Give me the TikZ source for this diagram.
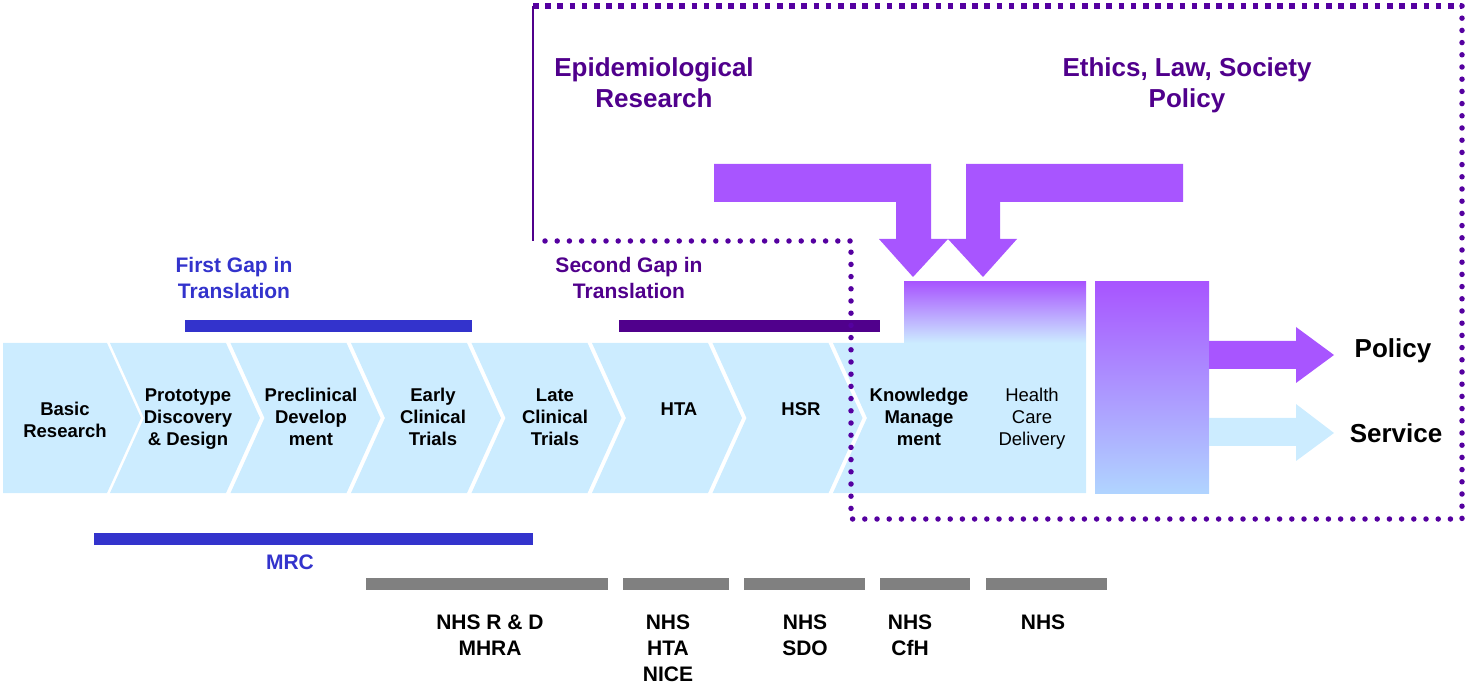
\documentclass[tikz,border=0pt]{standalone}
\usepackage{fontspec}
\setmainfont{Liberation Sans}
\usepackage{xcolor}
\usepackage{tikz}

\definecolor{chev}{RGB}{204,236,255}
\definecolor{viola}{RGB}{168,85,255}
\definecolor{indaco}{RGB}{80,0,140}
\definecolor{puntini}{RGB}{85,0,160}
\definecolor{blu}{RGB}{51,51,204}
\definecolor{grigio}{RGB}{128,128,128}
\definecolor{azzurro}{RGB}{176,212,255}

\tikzset{
  fase/.style={font=\fontsize{18.5}{22}\selectfont\bfseries, align=center, inner sep=0pt},
  titolo/.style={font=\fontsize{26}{31}\selectfont\bfseries, align=center, inner sep=0pt, text=indaco},
  gaptext/.style={font=\fontsize{21}{26}\selectfont\bfseries, align=center, inner sep=0pt},
  ente/.style={font=\fontsize{21}{26}\selectfont\bfseries, align=center, inner sep=0pt, anchor=north},
  esito/.style={font=\fontsize{26}{31}\selectfont\bfseries, inner sep=0pt},
  tondi/.style={puntini, line width=5.5pt, line cap=round, dash pattern=on 0pt off 12.2pt},
  quadri/.style={puntini, line width=5.5pt, line cap=butt, dash pattern=on 5.5pt off 6.7pt}
}

\begin{document}
\begin{tikzpicture}[x=1pt,y=-1pt]
  \useasboundingbox (0,0) rectangle (1473,684);

  % Fasi (chevron)
  \fill[chev] (3,343) -- (107,343) -- (141,418) -- (107,493) -- (3,493) -- cycle;
  \foreach \x in {110,230.5,351,471.5,592,712.5}
    \fill[chev] (\x,343) -- ++(116,0) -- ++(34,75) -- ++(-34,75) -- ++(-116,0) -- ++(34,-75) -- cycle;
  \fill[chev] (833,343) -- (1086,343) -- (1086,493) -- (833,493) -- (867,418) -- cycle;
  \shade[top color=viola, bottom color=chev] (904,282) rectangle (1086,343);

  % Blocco verticale a destra
  \shade[top color=viola, middle color=viola, bottom color=azzurro] (1095,282) rectangle (1209,493);

  % Frecce Policy / Service
  \fill[viola] (1209,341) -- (1296,341) -- (1296,327) -- (1334,355) -- (1296,383) -- (1296,369) -- (1209,369) -- cycle;
  \fill[chev] (1209,418) -- (1296,418) -- (1296,404) -- (1334,433) -- (1296,461) -- (1296,446) -- (1209,446) -- cycle;

  % Frecce piegate in alto
  \fill[viola] (714,164) -- (931,164) -- (931,239) -- (948,239) -- (913,277) -- (879,239) -- (896,239) -- (896,202) -- (714,202) -- cycle;
  \fill[viola] (1183,164) -- (966,164) -- (966,239) -- (948,239) -- (983,277) -- (1017,239) -- (1000,239) -- (1000,202) -- (1183,202) -- cycle;

  % Barre
  \fill[blu] (185,320) rectangle (472,332);
  \fill[indaco] (619,320) rectangle (880,332);
  \fill[blu] (94,533) rectangle (533,545);
  \fill[grigio] (366,578) rectangle (608,590);
  \fill[grigio] (623,578) rectangle (729,590);
  \fill[grigio] (744,578) rectangle (865,590);
  \fill[grigio] (880,578) rectangle (970,590);
  \fill[grigio] (986,578) rectangle (1107,590);

  % Bordo punteggiato
  \coordinate (nw) at (533,6);
  \coordinate (ne) at (1462,6);
  \coordinate (se) at (1462,519);
  \coordinate (sw) at (851,519);
  \coordinate (gomito) at (851,241);
  \coordinate (piede) at (533,241);
  \draw[quadri] (nw) -- (ne);
  \draw[tondi] (ne) -- (se) -- (sw) -- (gomito) -- (piede);
  \draw[indaco, line width=2pt] (piede) -- (nw);

  % Testi delle fasi
  \node[fase] (basic) at (65,420) {Basic\\Research};
  \node[fase] (proto) at (188,419) {Prototype\\Discovery\\\& Design};
  \node[fase] (precl) at (311,417) {Preclinical\\Develop\\ment};
  \node[fase] (early) at (433,417) {Early\\Clinical\\Trials};
  \node[fase] (late) at (555,417) {Late\\Clinical\\Trials};
  \node[fase] (hta) at (679,409) {HTA};
  \node[fase] (hsr) at (801,409) {HSR};
  \node[fase] (km) at (919,417) {Knowledge\\Manage\\ment};
  \node[fase, font=\fontsize{18.5}{22}\selectfont] (hcd) at (1032,419) {Health\\Care\\Delivery};

  % Titoli
  \node[titolo] (epi) at (654,83) {Epidemiological\\Research};
  \node[titolo] (etica) at (1187,85) {Ethics, Law, Society\\Policy};
  \node[gaptext, text=blu] (gap1) at (234,278) {First Gap in\\Translation};
  \node[gaptext, text=indaco] (gap2) at (629,278) {Second Gap in\\Translation};
  \node[gaptext, text=blu] (mrc) at (290,562) {MRC};

  % Enti finanziatori
  \node[ente] (rd) at (490,615) {NHS R \& D\\MHRA};
  \node[ente] (nice) at (668,615) {NHS\\HTA\\NICE};
  \node[ente] (sdo) at (805,615) {NHS\\SDO};
  \node[ente] (cfh) at (910,615) {NHS\\CfH};
  \node[ente] (nhs) at (1043,615) {NHS};

  % Esiti
  \node[esito] (policy) at (1393,351) {Policy};
  \node[esito] (service) at (1396,433) {Service};
\end{tikzpicture}
\end{document}
